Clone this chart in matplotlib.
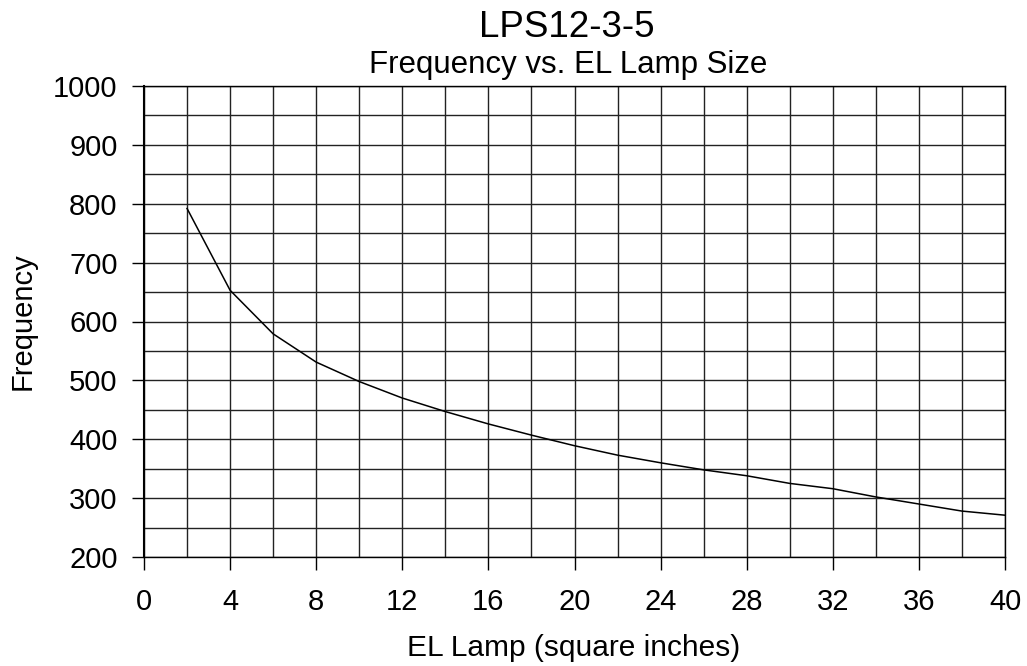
import matplotlib
matplotlib.use("Agg")
import matplotlib.pyplot as plt
import numpy as np

plt.rcParams['font.family'] = ['Liberation Sans', 'DejaVu Sans']

lamp_size = [2, 4, 6, 8, 10, 12, 14, 16, 18, 20, 22, 24, 26, 28, 30, 32, 34, 36, 38, 40]
frequency = [792, 653, 579, 531, 498, 470, 447, 426, 407, 389, 373, 360, 348, 338, 325, 316, 302, 290, 278, 271]

x_ticks = list(range(0, 41, 4))
y_ticks = list(range(200, 1001, 100))

W, H = 1027, 666
fig = plt.figure(figsize=(W / 100, H / 100), dpi=100)
ax = fig.add_axes([144 / W, 1 - 557 / H, (1005 - 144) / W, (557 - 86) / H])

ax.plot(lamp_size, frequency, color='black', lw=1.1, zorder=3)

ax.set_xlim(0, 40)
ax.set_ylim(200, 1000)
ax.set_xticks(x_ticks)
ax.set_yticks(y_ticks)
ax.set_xticks(np.arange(0, 41, 2), minor=True)
ax.set_yticks(np.arange(200, 1001, 50), minor=True)
ax.grid(which='both', color='#222222', lw=1.0)
ax.tick_params(which='major', direction='out', length=9, width=1, labelsize=21, pad=10, colors='black')
ax.tick_params(axis='x', which='major', pad=13)
ax.tick_params(which='minor', length=0)
for s in ax.spines.values():
    s.set_color('black')
    s.set_linewidth(1.0)
ax.spines['left'].set_linewidth(1.5)

ax.set_ylabel('Frequency', fontsize=21, labelpad=12)

fig.text(574 / W, 1 - 656 / H, 'EL Lamp (square inches)', ha='center', va='baseline', fontsize=21.5)
fig.text(567 / W, 1 - 37 / H, 'LPS12-3-5', ha='center', va='baseline', fontsize=26.5)
fig.text(568 / W, 1 - 73 / H, 'Frequency vs. EL Lamp Size', ha='center', va='baseline', fontsize=22.5)

fig.savefig('out.png', dpi=100)
